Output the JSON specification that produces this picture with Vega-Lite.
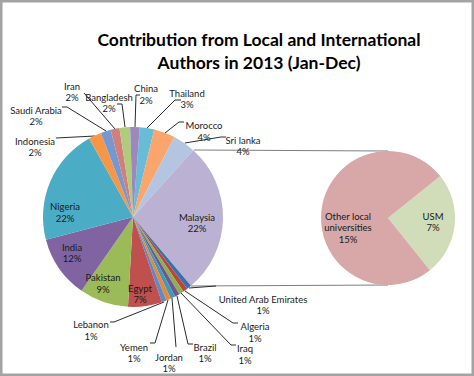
{
  "$schema": "https://vega.github.io/schema/vega-lite/v6.json",
  "width": 474,
  "height": 376,
  "autosize": {"type": "fit", "contains": "padding"},
  "padding": 0,
  "background": "white",
  "config": {"view": {"stroke": "#a3a3a3", "strokeWidth": 5}},
  "datasets": {
    "main": [
      {"country": "Thailand", "share": 2.6, "ord": 1},
      {"country": "Morocco", "share": 3.8, "ord": 2},
      {"country": "Sri lanka", "share": 4.1, "ord": 3},
      {"country": "Malaysia", "share": 27.2, "ord": 4},
      {"country": "United Arab Emirates", "share": 0.85, "ord": 5},
      {"country": "Algeria", "share": 0.85, "ord": 6},
      {"country": "Iraq", "share": 0.85, "ord": 7},
      {"country": "Brazil", "share": 0.85, "ord": 8},
      {"country": "Jordan", "share": 0.85, "ord": 9},
      {"country": "Yemen", "share": 0.85, "ord": 10},
      {"country": "Lebanon", "share": 0.85, "ord": 11},
      {"country": "Egypt", "share": 6.1, "ord": 12},
      {"country": "Pakistan", "share": 8.8, "ord": 13},
      {"country": "India", "share": 11.25, "ord": 14},
      {"country": "Nigeria", "share": 21.0, "ord": 15},
      {"country": "Indonesia", "share": 2.3, "ord": 16},
      {"country": "Saudi Arabia", "share": 1.8, "ord": 17},
      {"country": "Iran", "share": 1.6, "ord": 18},
      {"country": "Bangladesh", "share": 1.9, "ord": 19},
      {"country": "China", "share": 1.7, "ord": 20}
    ],
    "detail": [
      {"country": "USM", "share": 6.8, "ord": 1},
      {"country": "Other local universities", "share": 20.4, "ord": 2}
    ],
    "labels": [
      {"t": "Iran\n2%", "x": 72, "y": 86.5},
      {"t": "Bangladesh\n2%", "x": 109, "y": 97.5},
      {"t": "China\n2%", "x": 146, "y": 89},
      {"t": "Thailand\n3%", "x": 187, "y": 93.5},
      {"t": "Morocco\n4%", "x": 204, "y": 126},
      {"t": "Sri lanka\n4%", "x": 243, "y": 140.5},
      {"t": "Saudi Arabia\n2%", "x": 36, "y": 110.5},
      {"t": "Indonesia\n2%", "x": 35, "y": 141.5},
      {"t": "Nigeria\n22%", "x": 65, "y": 207},
      {"t": "India\n12%", "x": 72, "y": 247.5},
      {"t": "Pakistan\n9%", "x": 103, "y": 278},
      {"t": "Egypt\n7%", "x": 140, "y": 288.5},
      {"t": "Malaysia\n22%", "x": 197, "y": 217.5},
      {"t": "Lebanon\n1%", "x": 91, "y": 325},
      {"t": "Yemen\n1%", "x": 134, "y": 347.5},
      {"t": "Jordan\n1%", "x": 169, "y": 357.5},
      {"t": "Brazil\n1%", "x": 205, "y": 347.5},
      {"t": "Iraq\n1%", "x": 245, "y": 349},
      {"t": "Algeria\n1%", "x": 255, "y": 327},
      {"t": "United Arab Emirates\n1%", "x": 263, "y": 299.5},
      {"t": "Other local\nuniversities\n15%", "x": 348, "y": 216.5},
      {"t": "USM\n7%", "x": 433, "y": 216.5}
    ],
    "titles": [
      {"t": "Contribution from Local and International\nAuthors in 2013 (Jan-Dec)", "x": 259, "y": 40.5}
    ],
    "leaders": [
      {"x": 84, "y": 93, "x2": 115, "y2": 129},
      {"x": 117, "y": 104, "x2": 122, "y2": 104},
      {"x": 122, "y": 104, "x2": 125, "y2": 127},
      {"x": 140, "y": 95, "x2": 136, "y2": 95},
      {"x": 136, "y": 95, "x2": 135, "y2": 127},
      {"x": 181, "y": 100, "x2": 175, "y2": 100},
      {"x": 175, "y": 100, "x2": 147, "y2": 128},
      {"x": 184, "y": 122, "x2": 179, "y2": 122},
      {"x": 179, "y": 122, "x2": 165, "y2": 133},
      {"x": 226, "y": 137, "x2": 221, "y2": 137},
      {"x": 221, "y": 137, "x2": 185, "y2": 143},
      {"x": 62, "y": 107, "x2": 67, "y2": 107},
      {"x": 67, "y": 107, "x2": 106, "y2": 131},
      {"x": 56, "y": 138, "x2": 95, "y2": 136},
      {"x": 110, "y": 322, "x2": 114, "y2": 322},
      {"x": 114, "y": 322, "x2": 164, "y2": 302},
      {"x": 150, "y": 343, "x2": 155, "y2": 343},
      {"x": 155, "y": 343, "x2": 168, "y2": 300},
      {"x": 176, "y": 347, "x2": 172, "y2": 298},
      {"x": 193, "y": 344, "x2": 188, "y2": 344},
      {"x": 188, "y": 344, "x2": 177, "y2": 296},
      {"x": 236, "y": 345, "x2": 231, "y2": 345},
      {"x": 231, "y": 345, "x2": 181, "y2": 293},
      {"x": 238, "y": 323, "x2": 233, "y2": 323},
      {"x": 233, "y": 323, "x2": 185, "y2": 291},
      {"x": 216, "y": 286, "x2": 189, "y2": 288}
    ],
    "connectors": [
      {"x": 194, "y": 150, "x2": 388, "y2": 151},
      {"x": 191, "y": 286, "x2": 388, "y2": 285}
    ]
  },
  "resolve": {"scale": {"theta": "independent"}},
  "layer": [
    {
      "data": {"name": "connectors"},
      "mark": {"type": "rule", "color": "#7f7f7f", "strokeWidth": 1.2},
      "encoding": {
        "x": {"field": "x", "type": "quantitative", "scale": {"domain": [0, 474], "nice": false, "zero": false}, "axis": null},
        "y": {"field": "y", "type": "quantitative", "scale": {"domain": [0, 376], "nice": false, "zero": false, "reverse": true}, "axis": null},
        "x2": {"field": "x2"},
        "y2": {"field": "y2"}
      }
    },
    {
      "data": {"name": "leaders"},
      "mark": {"type": "rule", "color": "#2b2b2b", "strokeWidth": 1},
      "encoding": {
        "x": {"field": "x", "type": "quantitative", "scale": {"domain": [0, 474], "nice": false, "zero": false}, "axis": null},
        "y": {"field": "y", "type": "quantitative", "scale": {"domain": [0, 376], "nice": false, "zero": false, "reverse": true}, "axis": null},
        "x2": {"field": "x2"},
        "y2": {"field": "y2"}
      }
    },
    {
      "data": {"name": "main"},
      "mark": {"type": "arc", "radius": 90},
      "encoding": {
        "theta": {"field": "share", "type": "quantitative", "stack": true, "scale": {"range": [0.075, 6.358]}},
        "order": {"field": "ord", "type": "quantitative", "sort": "ascending"},
        "color": {
          "field": "country", "type": "nominal", "legend": null,
          "scale": {
            "domain": ["Thailand", "Morocco", "Sri lanka", "Malaysia", "United Arab Emirates", "Algeria", "Iraq", "Brazil", "Jordan", "Yemen", "Lebanon", "Egypt", "Pakistan", "India", "Nigeria", "Indonesia", "Saudi Arabia", "Iran", "Bangladesh", "China", "USM", "Other local universities"],
            "range": ["#68BCD6", "#F9A56B", "#B3C5E1", "#BBB1D3", "#3A6FAE", "#B8463F", "#8FB04F", "#6E5596", "#3D9BB6", "#E8873A", "#5B8BCB", "#C0504D", "#9BBB59", "#8064A2", "#4BACC6", "#F79646", "#7598D0", "#D27E7B", "#AFCB7C", "#9B89BD", "#D0DDB8", "#D8A7A7"]
          }
        },
        "x": {"datum": 133, "type": "quantitative"},
        "y": {"datum": 217, "type": "quantitative"}
      }
    },
    {
      "data": {"name": "detail"},
      "mark": {"type": "arc", "radius": 67},
      "encoding": {
        "theta": {"field": "share", "type": "quantitative", "stack": true, "scale": {"range": [0.895, 7.178]}},
        "order": {"field": "ord", "type": "quantitative", "sort": "ascending"},
        "color": {"field": "country", "type": "nominal", "legend": null},
        "x": {"datum": 388, "type": "quantitative"},
        "y": {"datum": 218, "type": "quantitative"}
      }
    },
    {
      "data": {"name": "labels"},
      "mark": {"type": "text", "font": "Lato", "fontSize": 9.5, "color": "#1a1a1a", "align": "center", "baseline": "middle", "lineBreak": "\n", "lineHeight": 11.5},
      "encoding": {
        "x": {"field": "x", "type": "quantitative"},
        "y": {"field": "y", "type": "quantitative"},
        "text": {"field": "t"}
      }
    },
    {
      "data": {"name": "titles"},
      "mark": {"type": "text", "font": "Lato", "fontSize": 17.5, "fontWeight": "bold", "color": "#000000", "align": "center", "baseline": "middle", "lineBreak": "\n", "lineHeight": 23},
      "encoding": {
        "x": {"field": "x", "type": "quantitative"},
        "y": {"field": "y", "type": "quantitative"},
        "text": {"field": "t"}
      }
    }
  ]
}
